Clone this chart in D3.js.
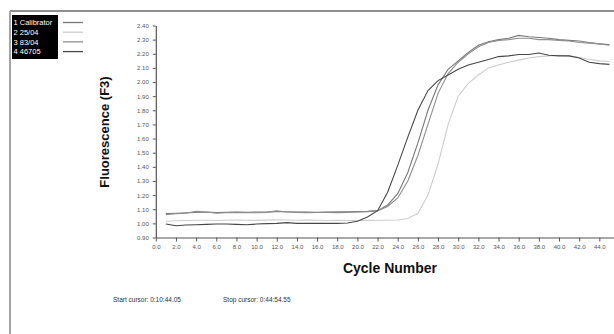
<!DOCTYPE html>
<html><head><meta charset="utf-8">
<script src="https://cdn.jsdelivr.net/npm/d3@7/dist/d3.min.js"></script>
<style>body{margin:0;background:#fff}svg{display:block;font-family:Arial,"Liberation Sans",sans-serif}</style>
</head><body><svg id="c" width="614" height="334"></svg>
<script>
const cycles = d3.range(1, 46);
const seriesNames = ["1 Calibrator", "2 25/04", "3 83/04", "4 46705"];
const seriesColors = ["#787878", "#cdcdcd", "#8e8e8e", "#474747"];
const calibrator = [1.070,1.072,1.075,1.078,1.080,1.077,1.078,1.080,1.079,1.080,1.080,1.083,1.082,1.080,1.080,1.079,1.080,1.081,1.082,1.083,1.085,1.090,1.130,1.210,1.360,1.570,1.800,1.980,2.090,2.150,2.210,2.260,2.285,2.300,2.310,2.330,2.320,2.315,2.310,2.300,2.295,2.290,2.280,2.270,2.265];
const s2504 = [1.015,1.018,1.020,1.022,1.022,1.020,1.022,1.024,1.022,1.021,1.023,1.025,1.024,1.022,1.023,1.022,1.020,1.021,1.020,1.020,1.021,1.022,1.022,1.024,1.035,1.070,1.200,1.420,1.700,1.900,1.990,2.050,2.100,2.120,2.140,2.155,2.170,2.180,2.185,2.190,2.185,2.175,2.160,2.150,2.145];
const s8304 = [1.062,1.068,1.072,1.085,1.080,1.072,1.076,1.078,1.076,1.075,1.078,1.088,1.080,1.078,1.076,1.077,1.078,1.076,1.078,1.080,1.083,1.090,1.120,1.180,1.300,1.480,1.700,1.920,2.060,2.140,2.200,2.250,2.280,2.295,2.300,2.310,2.310,2.300,2.300,2.295,2.290,2.280,2.275,2.270,2.260];
const s46705 = [0.995,0.983,0.988,0.990,0.993,0.995,0.995,0.993,0.990,0.995,0.998,1.000,1.005,1.000,1.000,1.000,1.000,1.000,1.003,1.015,1.045,1.090,1.220,1.410,1.610,1.800,1.940,2.010,2.050,2.090,2.120,2.140,2.160,2.180,2.185,2.195,2.195,2.205,2.190,2.185,2.185,2.170,2.140,2.130,2.125];
const allSeries = [calibrator, s2504, s8304, s46705];
const xTicks = d3.range(0, 47, 2);
const yTicks = d3.range(9, 25).map(v => v / 10);
const startCursor = "Start cursor: 0:10:44.05";
const stopCursor = "Stop cursor: 0:44:54.55";

const svg = d3.select("#c");
const x = d3.scaleLinear().domain([0, 46]).range([155.8, 619.5]);
const y = d3.scaleLinear().domain([0.9, 2.4]).range([237.5, 25.5]);

// frame
svg.append("line").attr("x1", 10).attr("x2", 614).attr("y1", 11).attr("y2", 11).attr("stroke", "#6a6a6a").attr("stroke-width", 1.5);
svg.append("line").attr("x1", 10).attr("x2", 10).attr("y1", 11).attr("y2", 334).attr("stroke", "#9a9a9a").attr("stroke-width", 1.8);

// axes
const gx = svg.append("g").attr("transform", `translate(0,${y(0.9)})`)
  .call(d3.axisBottom(x).tickValues(xTicks).tickFormat(d3.format(".1f")).tickSize(4).tickPadding(3).tickSizeOuter(0));
const gy = svg.append("g").attr("transform", `translate(${x(0)},0)`)
  .call(d3.axisLeft(y).tickValues(yTicks).tickFormat(d3.format(".2f")).tickSize(3).tickPadding(4).tickSizeOuter(0));
[gx, gy].forEach(g => {
  g.select(".domain").attr("stroke", "#555").attr("stroke-width", 1.2);
  g.selectAll(".tick line").attr("stroke", "#555");
  g.selectAll(".tick text").attr("fill", "#555").style("font-size", "6px").style("font-family", "Arial, 'Liberation Sans', sans-serif");
});

// lines
const line = d3.line().x((d, i) => x(cycles[i])).y(d => y(d));
allSeries.forEach((s, i) => {
  svg.append("path").datum(s).attr("d", line).attr("fill", "none")
    .attr("stroke", seriesColors[i]).attr("stroke-width", 1.1);
});

// titles
svg.append("text").attr("transform", "translate(104,132) rotate(-90)")
  .attr("text-anchor", "middle").attr("dominant-baseline", "central")
  .style("font-size", "13px").style("font-weight", "bold").attr("fill", "#111")
  .text("Fluorescence (F3)");
svg.append("text").attr("x", 390).attr("y", 273).attr("text-anchor", "middle")
  .style("font-size", "14px").style("font-weight", "bold").attr("fill", "#111")
  .text("Cycle Number");

svg.append("text").attr("x", 113).attr("y", 302).style("font-size", "6.5px").attr("fill", "#333").text(startCursor);
svg.append("text").attr("x", 223).attr("y", 302).style("font-size", "6.5px").attr("fill", "#333").text(stopCursor);

// legend
svg.append("rect").attr("x", 12).attr("y", 15).attr("width", 46).attr("height", 44).attr("fill", "#000");
seriesNames.forEach((n, i) => {
  const cy = 22.5 + i * 9.7;
  svg.append("text").attr("x", 13.5).attr("y", cy + 2.7).style("font-size", "7.5px").attr("fill", "#fff").text(n);
  svg.append("line").attr("x1", 63).attr("x2", 83).attr("y1", cy).attr("y2", cy)
    .attr("stroke", seriesColors[i]).attr("stroke-width", 1.3);
});
</script></body></html>
